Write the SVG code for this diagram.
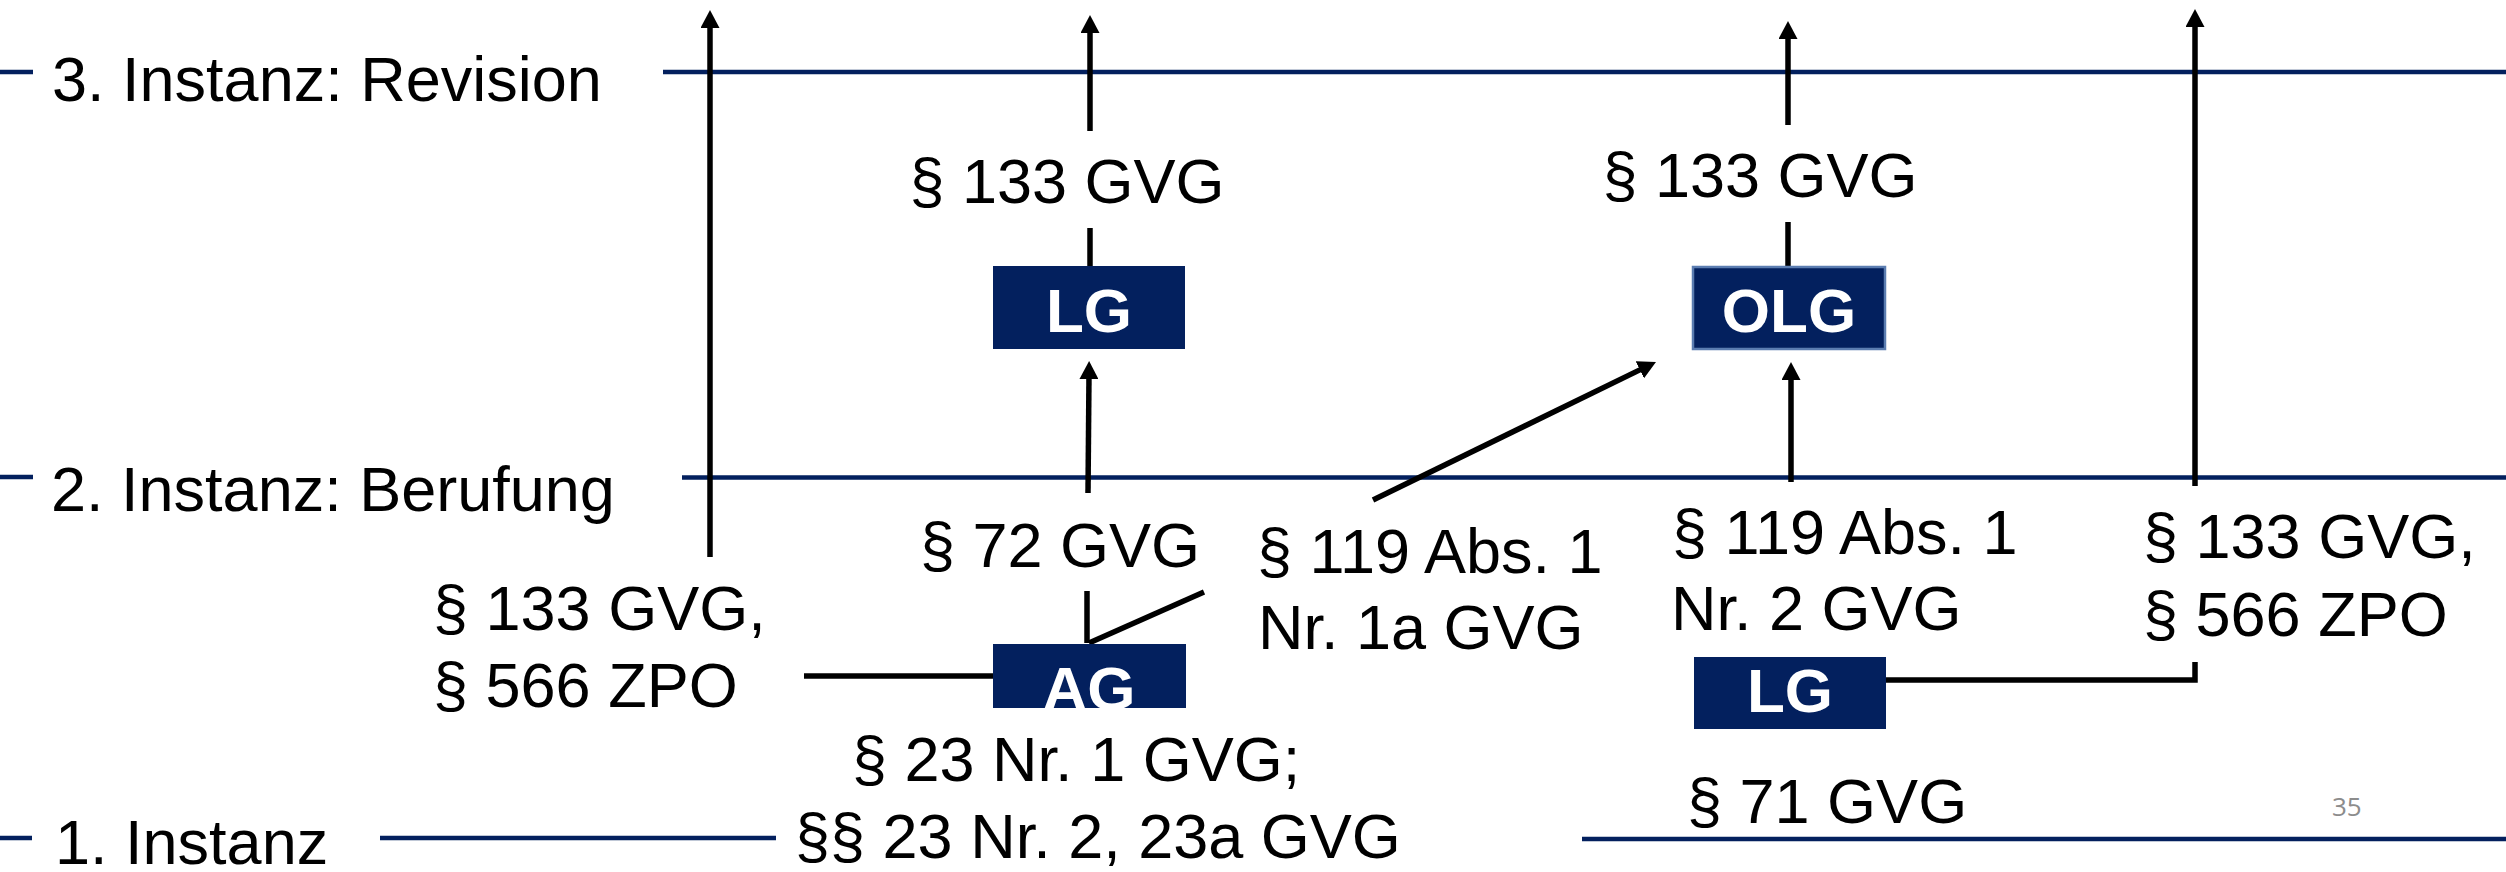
<svg xmlns="http://www.w3.org/2000/svg" width="2506" height="872" viewBox="0 0 2506 872">
<style>
.lvl{stroke:#03205E;stroke-width:4.5;fill:none}
.con{stroke:#000;stroke-width:5.5;fill:none}
.t{font-family:"Liberation Sans",Arial,sans-serif;font-size:63px;fill:#000}
.box{fill:#03205E}
.bt{font-family:"Liberation Sans",Arial,sans-serif;font-size:62px;font-weight:bold;fill:#fff;text-anchor:middle}
</style>
<defs>
<marker id="ah" viewBox="0 0 18 19" markerWidth="18" markerHeight="19" markerUnits="userSpaceOnUse" refX="4" refY="9.5" orient="auto">
<path d="M0,0 L18,9.5 L0,19 z" fill="#000"/>
</marker>
<clipPath id="agclip"><rect x="993" y="644" width="193" height="64"/></clipPath>
</defs>
<rect width="2506" height="872" fill="#fff"/>

<g id="levels">
<line class="lvl" x1="0" y1="72" x2="33" y2="72"/>
<line class="lvl" x1="663" y1="72" x2="2506" y2="72"/>
<line class="lvl" x1="0" y1="477" x2="33" y2="477"/>
<line class="lvl" x1="682" y1="477.5" x2="2506" y2="477.5"/>
<line class="lvl" x1="0" y1="838" x2="32" y2="838"/>
<line class="lvl" x1="380" y1="838" x2="776" y2="838"/>
<line class="lvl" x1="1582" y1="839" x2="2506" y2="839"/>
<text class="t" x="52" y="101">3. Instanz: Revision</text>
<text class="t" x="51" y="511">2. Instanz: Berufung</text>
<text class="t" x="55" y="864">1. Instanz</text>
</g>

<g id="connectors">
<line class="con" x1="710" y1="557" x2="710" y2="24" marker-end="url(#ah)"/>
<line class="con" x1="804" y1="676" x2="993" y2="676"/>
<line class="con" x1="1090" y1="131" x2="1090" y2="29" marker-end="url(#ah)"/>
<line class="con" x1="1090" y1="228" x2="1090" y2="266"/>
<line class="con" x1="1087" y1="643" x2="1087" y2="591"/>
<line class="con" x1="1088" y1="493" x2="1089" y2="375" marker-end="url(#ah)"/>
<line class="con" x1="1089" y1="643" x2="1204" y2="592"/>
<line class="con" x1="1373" y1="500" x2="1643.4" y2="368.1" marker-end="url(#ah)"/>
<line class="con" x1="1788" y1="125" x2="1788" y2="35" marker-end="url(#ah)"/>
<line class="con" x1="1788" y1="222" x2="1788" y2="267"/>
<line class="con" x1="1791" y1="482" x2="1791" y2="376" marker-end="url(#ah)"/>
<line class="con" x1="2195" y1="486" x2="2195" y2="23" marker-end="url(#ah)"/>
<polyline class="con" points="1886,680 2195,680 2195,662"/>
</g>

<g id="node-lg-top">
<rect class="box" x="993" y="266" width="192" height="83"/>
<text class="bt" x="1089" y="332">LG</text>
</g>
<g id="node-olg">
<rect class="box" x="1693" y="267" width="192" height="82" stroke="#5B7DB1" stroke-width="2.5"/>
<text class="bt" x="1789" y="332">OLG</text>
</g>
<g id="node-ag">
<rect class="box" x="993" y="644" width="193" height="64"/>
<text class="bt" x="1089" y="710" clip-path="url(#agclip)">AG</text>
</g>
<g id="node-lg-bottom">
<rect class="box" x="1694" y="657" width="192" height="72"/>
<text class="bt" x="1790" y="712">LG</text>
</g>

<g id="labels">
<text class="t" x="1067" y="203" text-anchor="middle">§ 133 GVG</text>
<text class="t" x="1760" y="197" text-anchor="middle">§ 133 GVG</text>
<text class="t" x="1060" y="567" text-anchor="middle">§ 72 GVG</text>
<text class="t" x="1257" y="573">§ 119 Abs. 1</text>
<text class="t" x="1258" y="649">Nr. 1a GVG</text>
<text class="t" x="433" y="630">§ 133 GVG,</text>
<text class="t" x="433" y="707">§ 566 ZPO</text>
<text class="t" x="852" y="781">§ 23 Nr. 1 GVG;</text>
<text class="t" x="795" y="858">§§ 23 Nr. 2, 23a GVG</text>
<text class="t" x="1672" y="554">§ 119 Abs. 1</text>
<text class="t" x="1671" y="630">Nr. 2 GVG</text>
<text class="t" x="2143" y="558">§ 133 GVG,</text>
<text class="t" x="2143" y="636">§ 566 ZPO</text>
<text class="t" x="1687" y="823">§ 71 GVG</text>
<text x="2332" y="816" font-family="'Open Sans','Liberation Sans',sans-serif" font-size="26" fill="#8C8C8C">35</text>
</g>
</svg>
